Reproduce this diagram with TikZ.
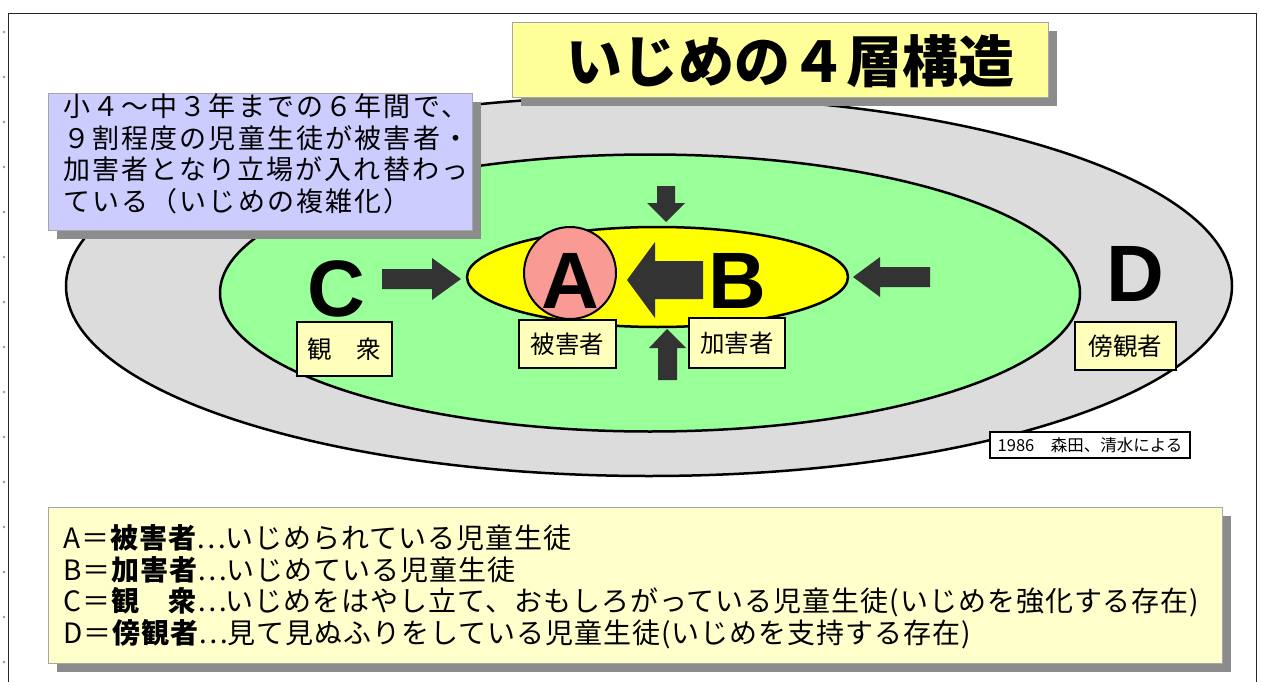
\documentclass[tikz,border=0pt]{standalone}
\usepackage{fontspec}
\setmainfont{Noto Sans CJK JP}
\newfontfamily\lat{Liberation Sans}
\newfontfamily\jpcall[LetterSpace=8]{Noto Sans CJK JP}
\newfontfamily\jpnote[LetterSpace=3.5]{Noto Sans CJK JP}
\usetikzlibrary{shapes.geometric,shadows}
\definecolor{outergray}{HTML}{DCDCDC}
\definecolor{greenfill}{HTML}{99FF99}
\definecolor{yelfill}{HTML}{FFFF00}
\definecolor{pinkfill}{HTML}{F99A95}
\definecolor{arrowc}{HTML}{333333}
\definecolor{titlefill}{HTML}{FFFF99}
\definecolor{callfill}{HTML}{CCCCFF}
\definecolor{notefill}{HTML}{FFFFCC}
\definecolor{labfill}{HTML}{FFFFBB}
\definecolor{shadowc}{HTML}{8C8C8C}
\newcommand{\jpell}{\makebox[1em][c]{…}}
\begin{document}
\begin{tikzpicture}[x=1pt,y=-1pt,
  ell/.style={ellipse,draw=black,line width=2.5pt,inner sep=0pt},
  blockarrow/.style={fill=arrowc},
  labbox/.style={rectangle,draw=black,line width=1.3pt,fill=labfill,inner sep=0pt,
     font=\fontsize{24.5}{24.5}\selectfont},
  bigletter/.style={font=\lat\bfseries\fontsize{80}{80}\selectfont,inner sep=0pt},
  shbox/.style={rectangle,draw=gray!70,line width=0.8pt,inner sep=0pt,
     drop shadow={shadow xshift=9pt,shadow yshift=-9pt,fill=shadowc,opacity=1}},
  tick/.style={fill=gray!80}]
\useasboundingbox (0,0) rectangle (1266,682);
\fill[white] (0,0) rectangle (1266,682);
% page frame
\draw[line width=1pt,black!85] (8,682) -- (8,14) -- (1256,14) -- (1256,682);
\foreach \yy in {32,77,...,662} {\fill[tick] (4,\yy) circle (1.3);}
% ellipses
\node[ell,fill=outergray,minimum width=1166,minimum height=380] (outer) at (649,286) {};
\node[ell,fill=greenfill,minimum width=860,minimum height=277] (green) at (650,293) {};
\node[ell,fill=yelfill,minimum width=381,minimum height=100] (yellow) at (657.5,277) {};
\node[ell,fill=pinkfill,minimum width=92,minimum height=92,line width=2pt] (circA) at (570,273) {};
% letters
\node[bigletter] (A) at (570,281) {A};
\node[bigletter] (B) at (737,281) {B};
\node[bigletter] (C) at (336,289) {C};
\node[bigletter] (D) at (1135,274) {D};
% block arrows
\fill[blockarrow] (382,269) -- (432,269) -- (432,258) -- (461,279) -- (432,300) -- (432,289) -- (382,289) -- cycle;
\fill[blockarrow] (703,261) -- (655,261) -- (655,242) -- (627,280) -- (655,318) -- (655,299) -- (703,299) -- cycle;
\fill[blockarrow] (930,267) -- (880,267) -- (880,257) -- (853,277) -- (880,297) -- (880,287) -- (930,287) -- cycle;
\fill[blockarrow] (657,186) -- (675,186) -- (675,203) -- (685,203) -- (666,222) -- (647,203) -- (657,203) -- cycle;
\fill[blockarrow] (658,380) -- (677,380) -- (677,348) -- (686,348) -- (667,329) -- (649,348) -- (658,348) -- cycle;
% role labels
\node[labbox,minimum width=95,minimum height=54] (lC) at (344.5,349) {観　衆};
\node[labbox,minimum width=97,minimum height=48] (lA) at (567.5,344) {被害者};
\node[labbox,minimum width=96,minimum height=50] (lB) at (737,343) {加害者};
\node[labbox,minimum width=101,minimum height=48] (lD) at (1125.5,346) {傍観者};
% citation
\node[rectangle,draw=black,line width=2.5pt,fill=white,minimum width=200,minimum height=26,inner sep=0pt,
  font=\fontsize{16.5}{16.5}\selectfont] (cite) at (1090,445) {1986　森田、清水による};
% title
\node[shbox,fill=titlefill,minimum width=536,minimum height=75] (titlebox) at (780,59.5) {};
\node[font=\bfseries\fontsize{56}{56}\selectfont,inner sep=0pt] (title) at (790,61) {いじめの４層構造};
% callout
\node[shbox,fill=callfill,minimum width=424,minimum height=137] (callbox) at (260,161.5) {};
\node[anchor=west,align=left,inner sep=0pt,font=\jpcall\fontsize{27}{31.5}\selectfont] (calltext) at (63,154)
  {小４～中３年までの６年間で、\\９割程度の児童生徒が被害者・\\加害者となり立場が入れ替わっ\\ている（いじめの複雑化）};
% legend box
\node[shbox,fill=notefill,minimum width=1174,minimum height=156] (notebox) at (635,585) {};
\node[anchor=west,align=left,inner sep=0pt,font=\jpnote\fontsize{28}{31.5}\selectfont] (notetext) at (63,587)
  {A＝\textbf{被害者}\jpell いじめられている児童生徒\\
   B＝\textbf{加害者}\jpell いじめている児童生徒\\
   C＝\textbf{観　衆}\jpell いじめをはやし立て、おもしろがっている児童生徒(いじめを強化する存在)\\
   D＝\textbf{傍観者}\jpell 見て見ぬふりをしている児童生徒(いじめを支持する存在)};
\end{tikzpicture}
\end{document}
